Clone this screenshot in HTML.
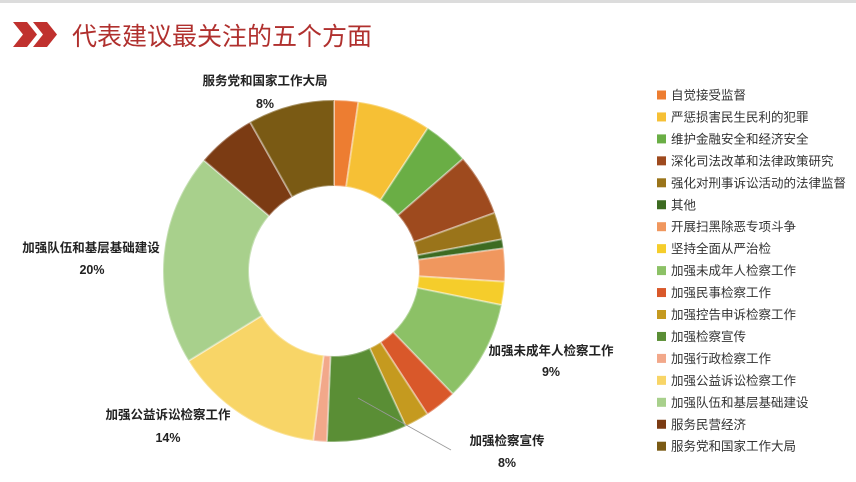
<!DOCTYPE html>
<html><head><meta charset="utf-8"><style>
body{margin:0;width:856px;height:482px;background:#fff;overflow:hidden;font-family:"Liberation Sans","Noto Sans CJK SC",sans-serif}
svg{position:absolute;left:0;top:0}
</style></head><body>
<svg id="s" width="856" height="482" xmlns="http://www.w3.org/2000/svg">
<rect x="0" y="0" width="856" height="3" fill="#dcdcdc"/>
<polygon points="13,22 27,22 37,34.5 27,47 13,47 23,34.5" fill="#c0312e"/>
<polygon points="33,22 47,22 57,34.5 47,47 33,47 43,34.5" fill="#c0312e"/>
<text x="72" y="45" font-size="25" fill="#b0302e" font-family="Liberation Sans,Noto Sans CJK SC,sans-serif">代表建议最关注的五个方面</text>
<g id="pie"></g>
<line x1="358" y1="398" x2="451" y2="450" stroke="#999" stroke-width="0.8"/>
<g font-size="12.5" font-weight="bold" fill="#222" text-anchor="middle" font-family="Liberation Sans,Noto Sans CJK SC,sans-serif">
<text x="265" y="85">服务党和国家工作大局</text><text x="265" y="108">8%</text>
<text x="91" y="252">加强队伍和基层基础建设</text><text x="92" y="274">20%</text>
<text x="551" y="355">加强未成年人检察工作</text><text x="551" y="376">9%</text>
<text x="168" y="419">加强公益诉讼检察工作</text><text x="168" y="442">14%</text>
<text x="507" y="445">加强检察宣传</text><text x="507" y="467">8%</text>
</g>
<g id="leg" font-size="12.5" fill="#333" font-family="Liberation Sans,Noto Sans CJK SC,sans-serif"></g>
</svg>
<script>
var cx=334,cy=271,R=171,r=85;
var ends=[8.2,33.3,49,70.1,79.3,82.4,93.6,101.5,136,146.9,155.2,182.4,187,238.3,310.4,330.6,360];
var cols=["#ED7D31","#F6C035","#6AAE45","#9E4A1E","#9A741A","#3D6B21","#F0975E","#F5CD2B","#8CC166","#D9582A","#C59A1F","#5A8E35","#F2A88A","#F8D567","#A8D08C","#7B3B13","#7A5A14"];
var names=["自觉接受监督","严惩损害民生民利的犯罪","维护金融安全和经济安全","深化司法改革和法律政策研究","强化对刑事诉讼活动的法律监督","其他","开展扫黑除恶专项斗争","坚持全面从严治检","加强未成年人检察工作","加强民事检察工作","加强控告申诉检察工作","加强检察宣传","加强行政检察工作","加强公益诉讼检察工作","加强队伍和基层基础建设","服务民营经济","服务党和国家工作大局"];
function pt(a,rad){a=a*Math.PI/180;return (cx+rad*Math.sin(a)).toFixed(2)+","+(cy-rad*Math.cos(a)).toFixed(2);}
var g=document.getElementById("pie"),h="",s=0;
for(var i=0;i<ends.length;i++){var e=ends[i],l=(e-s)>180?1:0;
h+='<path d="M'+pt(s,R)+' A'+R+','+R+' 0 '+l+' 1 '+pt(e,R)+' L'+pt(e,r)+' A'+r+','+r+' 0 '+l+' 0 '+pt(s,r)+' Z" fill="'+cols[i]+'" stroke="rgba(255,255,255,0.35)" stroke-width="2"/>';s=e;}
g.innerHTML=h;
var lg=document.getElementById("leg"),t="";
for(var i=0;i<names.length;i++){var y=95+i*21.95;
t+='<rect x="657" y="'+(y-4.5)+'" width="9" height="9" fill="'+cols[i]+'"/><text x="671" y="'+(y+4.5)+'">'+names[i]+'</text>';}
lg.innerHTML=t;
</script>
</body></html>
